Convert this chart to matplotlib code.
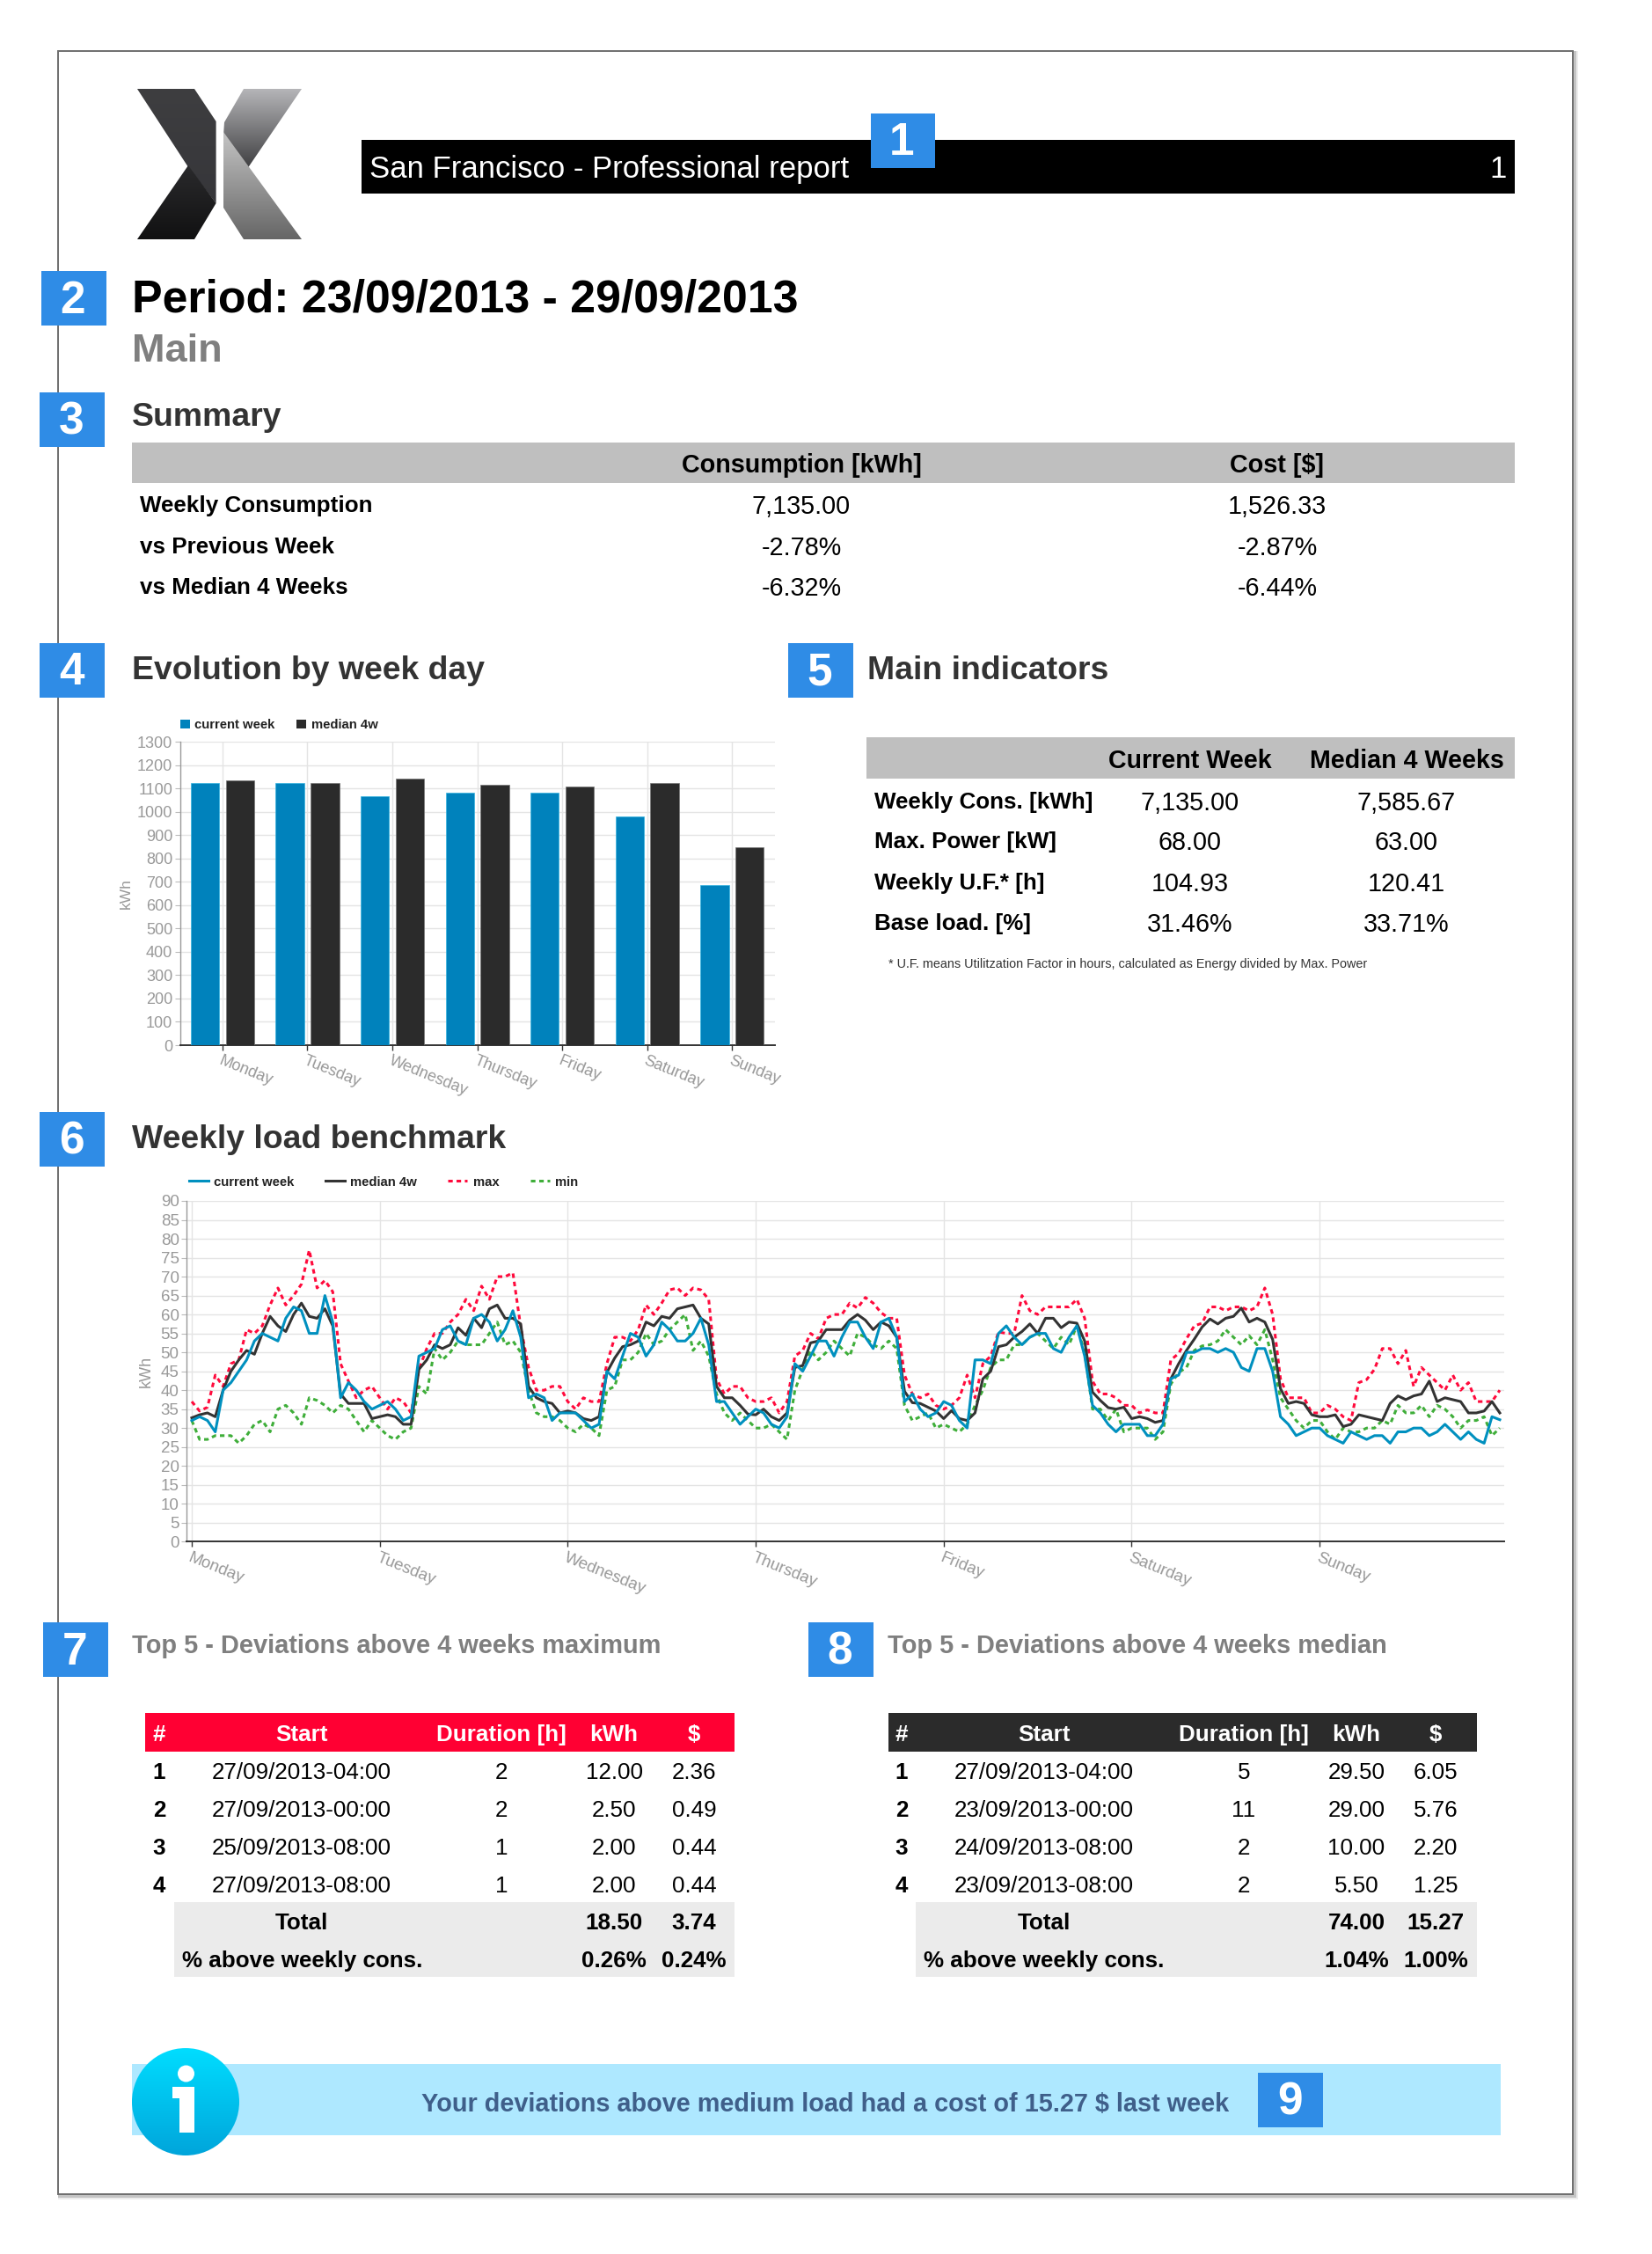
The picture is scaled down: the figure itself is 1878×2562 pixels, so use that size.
import numpy as np
import matplotlib
matplotlib.use('Agg')
import matplotlib.pyplot as plt
from matplotlib.patches import Rectangle, Polygon, Circle, Ellipse

plt.rcParams['font.family'] = ['Liberation Sans', 'DejaVu Sans']

W, H = 1878, 2562

# ---------- data ----------
days = ['Monday', 'Tuesday', 'Wednesday', 'Thursday', 'Friday', 'Saturday', 'Sunday']
bar_current = [1124, 1124, 1067, 1082, 1082, 979, 686]
bar_median = [1136, 1124, 1141, 1117, 1108, 1124, 848]

load_current = [
    32, 33, 32, 29, 40, 42, 45, 48, 53, 55, 54, 53, 59, 62, 61, 55, 55, 65, 58, 38, 42, 40, 37, 35,
    36, 37, 35, 32, 33, 49, 50, 51, 56, 57, 53, 52, 59, 60, 58, 53, 56, 61, 54, 38, 39, 38, 32, 34,
    34, 34, 32, 30, 31, 45, 43, 49, 55, 54, 49, 52, 58, 56, 53, 53, 55, 59, 52, 37, 37, 34, 31, 33,
    35, 34, 31, 30, 33, 47, 45, 49, 53, 53, 49, 54, 58, 58, 54, 51, 58, 59, 54, 37, 39, 35, 33, 34,
    37, 36, 32, 30, 48, 48, 47, 55, 57, 54, 52, 54, 55, 55, 51, 50, 54, 57, 49, 36, 34, 31, 29, 31,
    31, 31, 28, 28, 31, 43, 44, 50, 50, 51, 51, 50, 51, 50, 46, 45, 51, 51, 45, 33, 31, 28, 29, 30,
    30, 28, 27, 26, 29, 28, 27, 28, 28, 26, 29, 29, 30, 30, 28, 29, 31, 29, 27, 29, 27, 26, 33, 32.2]
load_median = [
    32.7, 33.5, 34, 33, 40, 45, 48, 50.5, 49.5, 55, 59.5, 57, 55.5, 60, 63, 59.5, 59, 61.5, 57, 39, 36.5, 36.5, 36.5, 32.5,
    33, 33.5, 33, 31, 31, 45.5, 48, 52, 51, 52, 56.5, 54.5, 59, 56.5, 61.5, 62.5, 59, 59, 57.5, 41, 38, 37, 36.5, 34,
    34.5, 34, 32.5, 32, 33, 44.7, 48.5, 51.5, 52, 53, 58, 57, 59.5, 59, 61.5, 62, 62.5, 59, 57.5, 41, 38, 38, 36, 33.7,
    33.5, 35, 33, 32, 34, 46, 46.5, 52.5, 53, 56, 56, 56, 58.5, 60, 58.5, 56, 58, 57, 54, 39.7, 36.7, 36.5, 35.5, 34.5,
    32.5, 34.6, 32.5, 32, 34, 43, 45, 51.5, 52, 54, 55.5, 57.5, 55, 59, 59, 56.5, 58, 57.7, 53, 39.5, 37.3, 35.4, 35, 35.5,
    32.5, 33, 32.5, 31.5, 32, 43, 47, 50.5, 53.5, 56.7, 58.8, 57.5, 59, 59.5, 61.7, 58, 59, 58, 53.4, 40.4, 36.5, 37, 36.5, 33.5,
    33, 33, 33.5, 30.4, 31, 33.5, 33, 32.5, 32, 36.5, 38.5, 37.5, 38.5, 39, 42.4, 37, 38, 37.5, 37, 34, 34, 34.5, 37, 34]
load_max = [
    37, 34.5, 35.5, 44, 41, 47, 48, 56, 55, 57, 62.5, 67, 62.5, 65, 68, 77, 67, 69, 66, 47, 42.4, 38, 40, 41,
    38, 35, 38, 37, 34, 45.5, 51, 55, 55, 58, 60, 64, 61, 67.5, 64, 70, 70, 71, 56.7, 46, 40, 40, 41, 41,
    37, 35, 38, 37, 37, 47, 54, 54, 53, 56, 62.5, 60, 63, 66.5, 67, 65, 67, 66.5, 64, 43, 39, 41, 41, 38,
    37, 37, 38, 34, 37, 49, 50.5, 55, 53.6, 59, 60, 60, 63, 61.7, 64.5, 63, 60.5, 59, 59, 44, 39, 38, 39, 36,
    35, 36, 38, 44, 38, 47, 49, 55.4, 55, 55, 65, 61, 60, 62, 62, 62, 62, 64, 59, 42.4, 39, 39, 38, 36,
    36, 34, 34.8, 34, 34, 48, 49.7, 53.6, 57, 57.7, 62, 62, 61, 62, 62, 61, 62, 67, 60, 43, 38, 38, 38, 34,
    34, 36, 35, 33, 32, 42, 42.8, 45.5, 51, 51, 47, 50.5, 41, 46, 44, 42, 40, 44, 40, 42, 37, 37, 37, 40]
load_min = [
    32, 27, 27, 28, 28, 28, 26, 28, 31, 32, 29, 35, 36, 34, 31, 38, 37.3, 36, 34, 36, 35, 32, 29, 32,
    30, 28, 27, 29, 30, 41, 39, 51, 48, 50, 53, 52, 52, 52, 55, 58, 52, 53, 50, 40, 34, 33, 33, 32,
    30, 29, 31, 30, 28, 40, 41, 48, 48, 50, 55, 52, 53, 56, 58, 60, 50.5, 53, 49, 39, 34, 32, 34, 32,
    30, 30, 31, 29, 27, 40, 45.5, 50.5, 48, 50, 53, 51, 49, 55, 54, 52, 51, 53, 51, 36, 32, 33, 34, 30,
    31, 30, 29, 31, 36, 40, 46, 48, 48, 52, 52, 54, 55, 53, 51, 54, 52, 57, 50, 35, 35, 32, 35, 29,
    30, 30, 30, 27, 29, 41.6, 44.7, 46, 50.5, 51.7, 52, 53, 56, 54, 52, 54.4, 52, 56, 48, 38, 35, 32, 30, 32,
    32, 29, 27, 30, 29, 29, 30, 30, 32, 31, 36, 34, 34, 36, 33, 36, 35, 33, 30, 32, 32, 33, 28, 30]
hours = np.arange(len(load_current))

summary_cols = ['Consumption [kWh]', 'Cost [$]']
summary_labels = ['Weekly Consumption', 'vs Previous Week', 'vs Median 4 Weeks']
summary_cons = ['7,135.00', '-2.78%', '-6.32%']
summary_cost = ['1,526.33', '-2.87%', '-6.44%']

ind_cols = ['Current Week', 'Median 4 Weeks']
ind_labels = ['Weekly Cons. [kWh]', 'Max. Power [kW]', 'Weekly U.F.* [h]', 'Base load. [%]']
ind_current = ['7,135.00', '68.00', '104.93', '31.46%']
ind_median = ['7,585.67', '63.00', '120.41', '33.71%']

dev_head = ['#', 'Start', 'Duration [h]', 'kWh', '$']
dev_max_rows = [['1', '27/09/2013-04:00', '2', '12.00', '2.36'],
                ['2', '27/09/2013-00:00', '2', '2.50', '0.49'],
                ['3', '25/09/2013-08:00', '1', '2.00', '0.44'],
                ['4', '27/09/2013-08:00', '1', '2.00', '0.44']]
dev_max_total = ['18.50', '3.74']
dev_max_pct = ['0.26%', '0.24%']
dev_med_rows = [['1', '27/09/2013-04:00', '5', '29.50', '6.05'],
                ['2', '23/09/2013-00:00', '11', '29.00', '5.76'],
                ['3', '24/09/2013-08:00', '2', '10.00', '2.20'],
                ['4', '23/09/2013-08:00', '2', '5.50', '1.25']]
dev_med_total = ['74.00', '15.27']
dev_med_pct = ['1.04%', '1.00%']

# ---------- colours ----------
C_BLUE = '#0082BC'
C_LINE = '#0090BF'
C_DARK = '#2B2B2B'
C_RED = '#FF0A3C'
C_GREEN = '#3FAE3A'
C_BADGE = '#2F8CE6'
C_GREY = '#999999'
C_GRID = '#E4E4E4'
C_HEAD = '#BFBFBF'
C_TOTAL = '#EBEBEB'
C_SEC = '#333333'
C_SUB = '#7F7F7F'

fig = plt.figure(figsize=(W / 100, H / 100), dpi=100, facecolor='white')
pg = fig.add_axes([0, 0, 1, 1])
pg.set_xlim(0, W)
pg.set_ylim(H, 0)
pg.axis('off')


def box(x0, y0, x1, y1, color, z=1, **kw):
    pg.add_patch(Rectangle((x0, y0), x1 - x0, y1 - y0, fc=color, ec='none', zorder=z, **kw))


def txt(x, y, s, size=18.7, weight='normal', color='black', ha='left', z=5, **kw):
    pg.text(x, y - 1.2, s, fontsize=size, fontweight=weight, color=color, ha=ha, va='center_baseline', zorder=z, **kw)


def px_axes(x0, y0, x1, y1):
    return fig.add_axes([x0 / W, 1 - y1 / H, (x1 - x0) / W, (y1 - y0) / H])


# page frame with soft shadow
box(66, 58, 1794, 2500, '#EDEDED', z=0)
box(66, 58, 1792, 2498, '#C4C4C4', z=0.1)
box(66, 58, 1788, 2494, 'white', z=0.5)
pg.add_patch(Rectangle((66, 58), 1722, 2436, fc='none', ec='#6E6E6E', lw=1.4, zorder=0.6))

# logo
def grad_poly(pts, top, bottom, angle_x=0.0):
    xs = [p[0] for p in pts]
    ys = [p[1] for p in pts]
    g = np.linspace(0, 1, 128)[:, None] * np.ones((128, 128))
    g = g + angle_x * np.linspace(0, 1, 128)[None, :]
    g = np.clip(g, 0, 1)
    t = np.array(matplotlib.colors.to_rgb(top))
    b = np.array(matplotlib.colors.to_rgb(bottom))
    rgb = t[None, None, :] * (1 - g[..., None]) + b[None, None, :] * g[..., None]
    im = pg.imshow(rgb, extent=(min(xs), max(xs), max(ys), min(ys)), zorder=2, aspect='auto', interpolation='bilinear')
    poly = Polygon(pts, closed=True, fc='none', ec='none', transform=pg.transData)
    pg.add_patch(poly)
    im.set_clip_path(poly)


grad_poly([(156, 101), (221, 101), (245.6, 138), (245.6, 231), (214, 190)], '#3E3E40', '#36363A')
grad_poly([(214, 188), (245.6, 231), (221, 272), (156, 272)], '#2A2A2C', '#111112')
grad_poly([(255, 139), (277, 101), (343, 101), (281, 192), (254, 154)], '#B5B5B8', '#3E3E40')
grad_poly([(254, 150), (281, 187), (343, 272), (277, 272), (254, 236)], '#C4C4C4', '#666666')
pg.set_xlim(0, W)
pg.set_ylim(H, 0)

# title bar
box(411, 158.5, 1722, 220, 'black', z=1)
txt(420, 190, 'San Francisco - Professional report', size=25, color='white')
txt(1703, 190, '1', size=25, color='white', ha='center')

# badges
badge_nums = ['1', '2', '3', '4', '5', '6', '7', '8', '9']
badge_x = [989.5, 47, 45, 45, 896, 45, 49, 919, 1430]
badge_y = [129, 308, 446, 731, 731, 1264, 1844, 1844, 2356]
for n, bx, by in zip(badge_nums, badge_x, badge_y):
    box(bx, by, bx + 73.5, by + 62, C_BADGE, z=6)
    pg.text(bx + 36, by + 34, n, fontsize=37, fontweight='bold', color='white', ha='center', va='center', zorder=7)

# headings
txt(150, 337, 'Period: 23/09/2013 - 29/09/2013', size=37.4, weight='bold')
txt(150, 396, 'Main', size=32.5, weight='bold', color=C_SUB)
txt(150, 472, 'Summary', size=26.9, weight='bold', color=C_SEC)
txt(150, 760, 'Evolution by week day', size=26.9, weight='bold', color=C_SEC)
txt(986, 760, 'Main indicators', size=26.9, weight='bold', color=C_SEC)
txt(150, 1293, 'Weekly load benchmark', size=26.9, weight='bold', color=C_SEC)
txt(150, 1869, 'Top 5 - Deviations above 4 weeks maximum', size=20.85, weight='bold', color=C_SUB)
txt(1009, 1869, 'Top 5 - Deviations above 4 weeks median', size=20.85, weight='bold', color=C_SUB)

# summary table
box(150, 503, 1722, 549, C_HEAD)
SUM_X = [911, 1452]
SUM_Y = [574, 621, 667]
for cx, lab in zip(SUM_X, summary_cols):
    txt(cx, 527, lab, size=20.7, weight='bold', ha='center')
for y, lab, a, b in zip(SUM_Y, summary_labels, summary_cons, summary_cost):
    txt(159, y, lab, size=18.7, weight='bold')
    txt(SUM_X[0], y, a, size=20.7, ha='center')
    txt(SUM_X[1], y, b, size=20.7, ha='center')

# indicators table
box(984.5, 838, 1722, 885, C_HEAD)
IND_X = [1353, 1599]
IND_Y = [911, 956, 1003, 1049]
for cx, lab in zip(IND_X, ind_cols):
    txt(cx, 863, lab, size=20.6, weight='bold', ha='center')
for y, lab, a, b in zip(IND_Y, ind_labels, ind_current, ind_median):
    txt(994, y, lab, size=18.7, weight='bold')
    txt(IND_X[0], y, a, size=20.7, ha='center')
    txt(IND_X[1], y, b, size=20.7, ha='center')
txt(1010, 1096, '* U.F. means Utilitzation Factor in hours, calculated as Energy divided by Max. Power', size=10.37, color='#333333')


# deviation tables
def dev_table(x0, x_grey, x1, cols, label_x, head_color, rows, total, pct):
    box(x0, 1947, x1, 1990.5, head_color)
    box(x_grey, 2162, x1, 2247, C_TOTAL)
    for cx, lab in zip(cols, dev_head):
        txt(cx, 1971, lab, size=18.7, weight='bold', color='white', ha='center')
    for y, row in zip([2014, 2057, 2100, 2143], rows):
        for j, (cx, val) in enumerate(zip(cols, row)):
            txt(cx, y, val, size=18.7, weight='bold' if j == 0 else 'normal', ha='center')
    txt(cols[1], 2185, 'Total', size=18.7, weight='bold', ha='center')
    txt(label_x, 2228, '% above weekly cons.', size=18.7, weight='bold')
    for cx, a, b in zip(cols[3:], total, pct):
        txt(cx, 2185, a, size=18.7, weight='bold', ha='center')
        txt(cx, 2228, b, size=18.7, weight='bold', ha='center')


dev_table(165.4, 198, 835, [181, 343, 570, 698, 789], 207, '#FF0033', dev_max_rows, dev_max_total, dev_max_pct)
dev_table(1010, 1041, 1679, [1025, 1187, 1414, 1542, 1632], 1050, C_DARK, dev_med_rows, dev_med_total, dev_med_pct)

# info banner
box(149.5, 2346, 1705.7, 2427, '#AEE8FF')
txt(479, 2390, 'Your deviations above medium load had a cost of 15.27 $ last week', size=20.8, weight='bold', color='#3F5F8A')
ring = np.linspace(0, 1, 128)[:, None]
t = np.array(matplotlib.colors.to_rgb('#00DDFF'))
b = np.array(matplotlib.colors.to_rgb('#00A5DB'))
ic = pg.imshow((t * (1 - ring) + b * ring)[:, None, :].repeat(4, axis=1), extent=(150, 272, 2450, 2328), zorder=3, aspect='auto')
clip = Circle((211, 2389), 61, transform=pg.transData, fc='none', ec='none')
pg.add_patch(clip)
ic.set_clip_path(clip)
pg.set_xlim(0, W)
pg.set_ylim(H, 0)
pg.add_patch(Ellipse((211.5, 2357), 19, 19, fc='white', ec='none', zorder=4))
pg.add_patch(Polygon([(196, 2372), (221, 2372), (221, 2424), (204, 2424), (204, 2385), (196, 2385)], fc='white', ec='none', zorder=4))


def style_axis(ax, size):
    ax.set_facecolor('none')
    ax.grid(True, color=C_GRID, lw=1.0)
    ax.set_axisbelow(True)
    for s in ('top', 'right'):
        ax.spines[s].set_visible(False)
    ax.spines['left'].set_color('#999999')
    ax.spines['left'].set_linewidth(1.0)
    ax.spines['bottom'].set_color('#333333')
    ax.spines['bottom'].set_linewidth(1.4)
    ax.tick_params(axis='y', length=4, width=0.8, color='#BBBBBB', labelcolor=C_GREY, labelsize=size, pad=2)
    ax.tick_params(axis='x', length=4, width=1.0, color='#333333', labelcolor=C_GREY, labelsize=size, pad=3)


# bar chart
ax1 = px_axes(204.6, 843.3, 880.6, 1188)
style_axis(ax1, 13)
cats = np.arange(len(days))
ax1.bar(cats - 0.206, bar_current, width=0.335, color=C_BLUE, edgecolor='#35B4E0', lw=0.5, zorder=3)
ax1.bar(cats + 0.206, bar_median, width=0.335, color=C_DARK, edgecolor='#777777', lw=0.5, zorder=3)
ax1.set_xlim(-0.5, 6.5)
ax1.set_ylim(0, 1300)
ax1.set_yticks(np.arange(0, 1301, 100))
ax1.set_xticks(cats)
ax1.set_xticklabels(days, rotation=-22, ha='left', rotation_mode='anchor')
ax1.set_ylabel('kWh', color=C_GREY, fontsize=12.5, va='center')
ax1.yaxis.set_label_coords((143 - 204.6) / 676, 0.5)

# line chart
AX2_L, AX2_R = 212, 1710
ax2 = px_axes(AX2_L, 1365, AX2_R, 1752.3)
style_axis(ax2, 13.5)
ax2.plot(hours, load_min, color=C_GREEN, lw=2.2, dashes=(1.7, 1.4), zorder=3)
ax2.plot(hours, load_max, color=C_RED, lw=2.2, dashes=(1.7, 1.4), zorder=4)
ax2.plot(hours, load_median, color='#333333', lw=2.2, zorder=5)
ax2.plot(hours, load_current, color=C_LINE, lw=2.2, zorder=6)
PX = 8.904
ax2.set_xlim((AX2_L - 218) / PX, (AX2_R - 218) / PX)
ax2.set_ylim(0, 90)
ax2.set_yticks(np.arange(0, 91, 5))
ax2.set_xticks(np.arange(7) * 24)
ax2.set_xticklabels(days, rotation=-22, ha='left', rotation_mode='anchor')
ax2.set_ylabel('kWh', color=C_GREY, fontsize=13, va='center')
ax2.yaxis.set_label_coords((166 - AX2_L) / (AX2_R - AX2_L), 0.5)

# legends
LEG = dict(size=10.7, weight='bold', color='#222222')
box(205, 818, 216, 828, C_BLUE, z=3)
txt(221, 824.2, 'current week', **LEG)
box(337, 818, 348, 828, C_DARK, z=3)
txt(353.6, 824.2, 'median 4w', **LEG)
leg_lines = [(215, 237, 243, 'current week', C_LINE, '-'), (370, 392, 398, 'median 4w', '#333333', '-'),
             (509, 531, 538, 'max', C_RED, (0, (1.7, 1.4))), (602.5, 625, 630.6, 'min', C_GREEN, (0, (1.7, 1.4)))]
for x0, x1, tx, lab, col, ls in leg_lines:
    pg.plot([x0, x1], [1342, 1342], color=col, lw=2.2, ls=ls, zorder=3, scaley=False, scalex=False)
    txt(tx, 1343.2, lab, **LEG)

fig.savefig('out.png', dpi=100)
